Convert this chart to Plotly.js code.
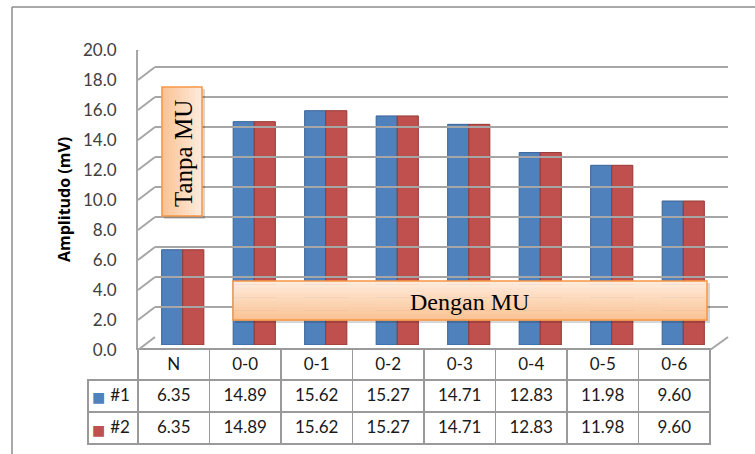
<!DOCTYPE html>
<html>
<head>
<meta charset="utf-8">
<script src="https://cdn.plot.ly/plotly-3.0.1.min.js"></script>
<style>html,body{margin:0;padding:0;background:#fff;}#chart{width:755px;height:454px;}</style>
</head>
<body>
<div id="chart"></div>
<script>
// ---- data ----
const categories = ['N', '0-0', '0-1', '0-2', '0-3', '0-4', '0-5', '0-6'];
const series1 = [6.35, 14.89, 15.62, 15.27, 14.71, 12.83, 11.98, 9.60];
const series2 = [6.35, 14.89, 15.62, 15.27, 14.71, 12.83, 11.98, 9.60];
const seriesNames = ['#1', '#2'];
const yTicks = [0, 2, 4, 6, 8, 10, 12, 14, 16, 18, 20];
const yTickText = ['0.0', '2.0', '4.0', '6.0', '8.0', '10.0', '12.0', '14.0', '16.0', '18.0', '20.0'];
const axisTitle = 'Amplitudo (mV)';
const noteNo = 'Tanpa MU';
const noteYes = 'Dengan MU';

// ---- styles ----
const colors = ['#4F81BD', '#C0504D'];
const edge = ['#3A6396', '#953835'];
const W = 755, H = 454;
const px = x => x / W;
const py = y => 1 - y / H;
const gridCol = '#A6A6A6';
const FONT = 'Lato, "Open Sans", sans-serif';

const traces = [
  {type: 'bar', x: categories, y: series1, name: seriesNames[0], xaxis: 'x', yaxis: 'y',
   marker: {color: colors[0], line: {color: edge[0], width: 1}}, hoverinfo: 'skip'},
  {type: 'bar', x: categories, y: series2, name: seriesNames[1], xaxis: 'x', yaxis: 'y',
   marker: {color: colors[1], line: {color: edge[1], width: 1}}, hoverinfo: 'skip'},
  // back wall grid subplot (no data)
  {type: 'scatter', x: [], y: [], xaxis: 'x2', yaxis: 'y2', hoverinfo: 'skip'},
  // front axis (labels) subplot (no data)
  {type: 'scatter', x: [], y: [], xaxis: 'x3', yaxis: 'y3', hoverinfo: 'skip'}
];

// data table
const cellCols = [seriesNames].concat(categories.map((c, i) => [series1[i].toFixed(2), series2[i].toFixed(2)]));
const headerLineColors = ['rgba(0,0,0,0)'].concat(categories.map(() => '#9A9A9A'));
const headerFill = ['rgba(0,0,0,0)'].concat(categories.map(() => 'white'));
traces.push({
  type: 'table',
  domain: {x: [px(88), px(711)], y: [py(447), py(349)]},
  columnwidth: [50].concat(categories.map(() => 71.6)),
  header: {
    values: [''].concat(categories),
    height: 31,
    align: 'center',
    fill: {color: headerFill},
    line: {color: headerLineColors, width: 1.5},
    font: {family: FONT, size: 17, color: '#1A1A1A'}
  },
  cells: {
    values: cellCols,
    height: 32,
    align: ['right'].concat(categories.map(() => 'center')),
    fill: {color: 'white'},
    line: {color: '#9A9A9A', width: 1.5},
    font: {family: FONT, size: 17, color: '#1A1A1A'}
  }
});

const shapes = [];
// outer chart border (top + left)
shapes.push({type: 'line', xref: 'paper', yref: 'paper', x0: px(12), x1: 1.01, y0: py(7), y1: py(7), line: {color: '#8C8C8C', width: 1.5}});
shapes.push({type: 'line', xref: 'paper', yref: 'paper', x0: px(12), x1: px(12), y0: py(7), y1: -0.01, line: {color: '#8C8C8C', width: 1.5}});
// left wall diagonals
yTicks.forEach(v => {
  shapes.push({type: 'line', xref: 'paper', yref: 'y3', ysizemode: 'pixel', yanchor: v,
    x0: px(138), x1: px(155), y0: 0, y1: 13, line: {color: gridCol, width: 2}});
});
// floor right diagonal
shapes.push({type: 'line', xref: 'paper', yref: 'y3', ysizemode: 'pixel', yanchor: 0,
  x0: px(710), x1: px(728), y0: 0, y1: 13, line: {color: gridCol, width: 2}});

// gradient box helper
function gradBox(x0, y0, x1, y1, vertical) {
  shapes.push({type: 'rect', xref: 'paper', yref: 'paper', layer: 'above',
    x0: px(x0 + 2), x1: px(x1 + 3), y0: py(y1 + 3), y1: py(y0 + 2),
    fillcolor: 'rgba(0,0,0,0.16)', line: {width: 0}});
  const c0 = [254, 234, 218], c1 = [250, 196, 150];
  const n = 12;
  for (let i = 0; i < n; i++) {
    const t = i / (n - 1);
    const c = c0.map((a, k) => Math.round(a + (c1[k] - a) * t));
    const col = 'rgb(' + c.join(',') + ')';
    let s;
    if (vertical) {
      const ya = y0 + (y1 - y0) * i / n, yb = y0 + (y1 - y0) * (i + 1) / n;
      s = {x0: px(x0), x1: px(x1), y0: py(yb + 0.5), y1: py(ya)};
    } else {
      const xa = x1 - (x1 - x0) * (i + 1) / n, xb = x1 - (x1 - x0) * i / n;
      s = {x0: px(xa - 0.5), x1: px(xb), y0: py(y1), y1: py(y0)};
    }
    shapes.push(Object.assign({type: 'rect', xref: 'paper', yref: 'paper', layer: 'above',
      fillcolor: col, line: {width: 0}}, s));
  }
  shapes.push({type: 'rect', xref: 'paper', yref: 'paper', layer: 'above',
    x0: px(x0), x1: px(x1), y0: py(y1), y1: py(y0),
    fillcolor: 'rgba(0,0,0,0)', line: {color: '#F79646', width: 1.5}});
}
gradBox(162, 87, 202, 216, false);
gradBox(233, 281, 707, 320, true);

// legend keys in the table's first column
const annotations = seriesNames.map((n, i) => ({
  xref: 'paper', yref: 'paper', x: px(99), y: py(397 + 33 * i), text: '■', showarrow: false,
  font: {family: '"DejaVu Sans", sans-serif', size: 14, color: colors[i]}, xanchor: 'center', yanchor: 'middle'
}));
annotations.push(
  {xref: 'paper', yref: 'paper', x: px(64), y: py(200), text: '<b>' + axisTitle + '</b>', textangle: -90,
   showarrow: false, font: {family: '"Open Sans", Lato, sans-serif', size: 16, weight: 700, color: '#000'}, xanchor: 'center', yanchor: 'middle'},
  {xref: 'paper', yref: 'paper', x: px(183), y: py(154), text: noteNo, textangle: -90,
   showarrow: false, font: {family: '"Liberation Serif", "Times New Roman", serif', size: 25, color: '#000'}, xanchor: 'center', yanchor: 'middle'},
  {xref: 'paper', yref: 'paper', x: px(470), y: py(302), text: noteYes,
   showarrow: false, font: {family: '"Liberation Serif", "Times New Roman", serif', size: 24, color: '#000'}, xanchor: 'center', yanchor: 'middle'}
);

const layout = {
  width: W, height: H,
  margin: {l: 0, r: 0, t: 0, b: 0, pad: 0},
  paper_bgcolor: '#FFFFFF', plot_bgcolor: 'rgba(0,0,0,0)',
  showlegend: false,
  barmode: 'group', bargap: 0.41, bargroupgap: 0,
  xaxis: {domain: [px(147), px(719)], anchor: 'y', type: 'category', range: [-0.5, 7.5],
    showticklabels: false, showgrid: false, zeroline: false, showline: false, fixedrange: true},
  yaxis: {domain: [py(345), py(45)], anchor: 'x', range: [0, 20],
    showticklabels: false, showgrid: false, zeroline: false, showline: false, fixedrange: true},
  xaxis2: {domain: [px(155), px(728)], anchor: 'y2', range: [0, 1], visible: false, fixedrange: true},
  yaxis2: {domain: [py(337), py(37)], anchor: 'x2', range: [0, 20], tickvals: yTicks,
    showticklabels: false, showgrid: true, gridcolor: gridCol, gridwidth: 2, zeroline: false, showline: false, fixedrange: true},
  xaxis3: {domain: [px(138), px(155)], anchor: 'y3', range: [0, 1], visible: false, fixedrange: true},
  yaxis3: {domain: [py(350), py(50)], anchor: 'x3', side: 'left', range: [0, 20],
    tickvals: yTicks, ticktext: yTickText, ticks: '', ticklabelstandoff: 16,
    tickfont: {family: FONT, size: 17, color: '#404040'},
    showgrid: false, zeroline: false, showline: true, linecolor: gridCol, linewidth: 2, fixedrange: true},
  shapes: shapes,
  annotations: annotations
};

Plotly.newPlot('chart', traces, layout, {staticPlot: true, displayModeBar: false});
</script>
</body>
</html>
